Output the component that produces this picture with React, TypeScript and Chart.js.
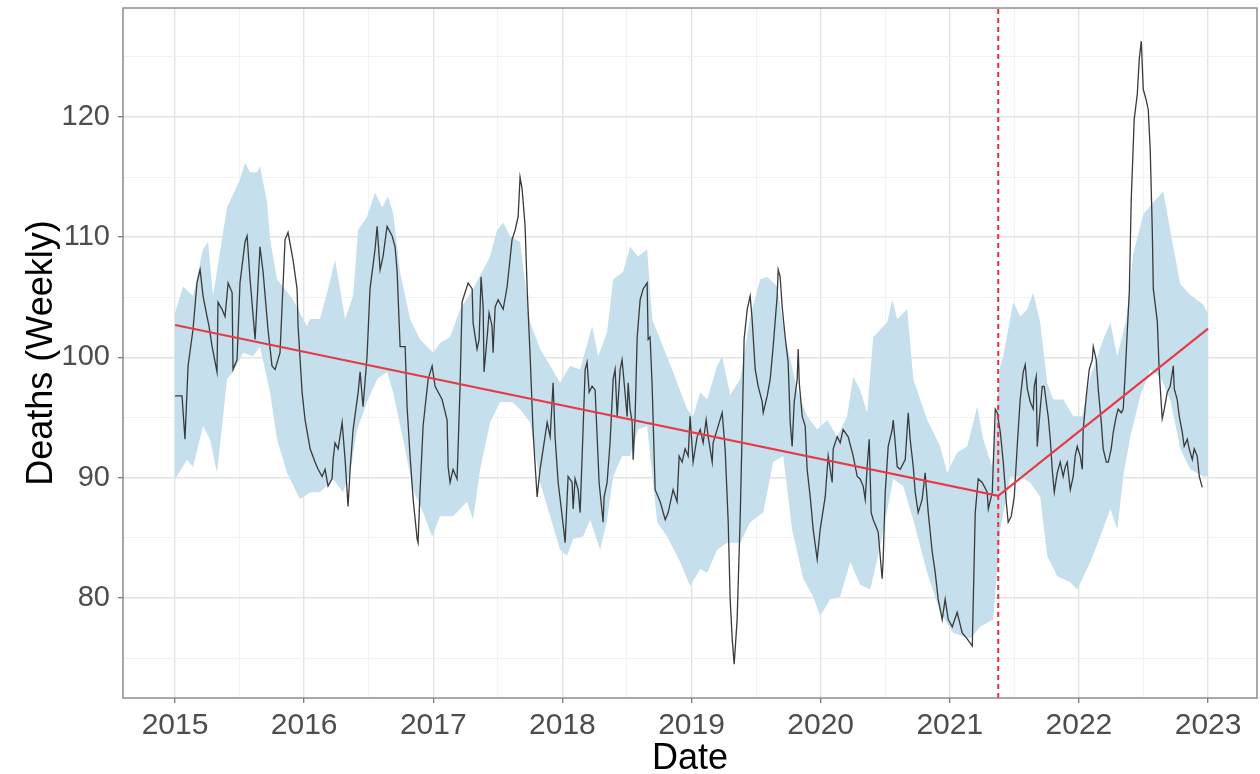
import React, { useEffect, useRef } from "react";
import { Chart, registerables } from "chart.js";

Chart.register(...registerables);

// Weekly deaths (black line), decimal year and value
const weekYears = [
  2015.000, 2015.054, 2015.077, 2015.101, 2015.139, 2015.170, 2015.194, 2015.217, 2015.248, 2015.263,
  2015.287, 2015.325, 2015.333, 2015.364, 2015.387, 2015.411, 2015.442, 2015.449, 2015.480, 2015.503,
  2015.542, 2015.558, 2015.581, 2015.620, 2015.643, 2015.658, 2015.682, 2015.720, 2015.751, 2015.775,
  2015.813, 2015.852, 2015.875, 2015.914, 2015.945, 2015.953, 2015.984,
  2016.007, 2016.030, 2016.046, 2016.084, 2016.108, 2016.139, 2016.162, 2016.185, 2016.216, 2016.224,
  2016.239, 2016.263, 2016.294, 2016.317, 2016.340, 2016.356, 2016.379, 2016.418, 2016.433, 2016.456,
  2016.487, 2016.510, 2016.549, 2016.565, 2016.588, 2016.611, 2016.642, 2016.681, 2016.704, 2016.720,
  2016.743, 2016.782, 2016.797, 2016.820, 2016.844, 2016.875, 2016.882, 2016.898, 2016.921, 2016.960,
  2016.991,
  2017.014, 2017.068, 2017.107, 2017.115, 2017.130, 2017.153, 2017.184, 2017.192, 2017.208, 2017.223,
  2017.246, 2017.270, 2017.301, 2017.308, 2017.339, 2017.355, 2017.370, 2017.386, 2017.393, 2017.417,
  2017.432, 2017.455, 2017.463, 2017.479, 2017.502, 2017.541, 2017.572, 2017.610, 2017.634, 2017.657,
  2017.672, 2017.688, 2017.711, 2017.727, 2017.750, 2017.773, 2017.804, 2017.827, 2017.851, 2017.882,
  2017.905, 2017.928, 2017.943, 2017.967, 2017.998,
  2018.021, 2018.044, 2018.075, 2018.083, 2018.098, 2018.122, 2018.137, 2018.160, 2018.176, 2018.191,
  2018.207, 2018.230, 2018.253, 2018.269, 2018.284, 2018.315, 2018.323, 2018.346, 2018.369, 2018.393,
  2018.408, 2018.424, 2018.447, 2018.462, 2018.478, 2018.501, 2018.509, 2018.524, 2018.540, 2018.548,
  2018.563, 2018.579, 2018.602, 2018.625, 2018.656, 2018.664, 2018.679, 2018.695, 2018.718, 2018.757,
  2018.796, 2018.819, 2018.857, 2018.888, 2018.904, 2018.927, 2018.950, 2018.974, 2018.989,
  2019.012, 2019.043, 2019.067, 2019.090, 2019.113, 2019.129, 2019.160, 2019.167, 2019.198, 2019.237,
  2019.260, 2019.284, 2019.299, 2019.315, 2019.330, 2019.353, 2019.377, 2019.392, 2019.407, 2019.431,
  2019.454, 2019.469, 2019.493, 2019.516, 2019.547, 2019.555, 2019.586, 2019.609, 2019.632, 2019.663,
  2019.671, 2019.686, 2019.702, 2019.725, 2019.748, 2019.764, 2019.779, 2019.795, 2019.818, 2019.826,
  2019.834, 2019.857, 2019.880, 2019.895, 2019.919, 2019.942, 2019.973, 2019.996,
  2020.035, 2020.058, 2020.089, 2020.097, 2020.128, 2020.151, 2020.174, 2020.213, 2020.252, 2020.283,
  2020.306, 2020.329, 2020.345, 2020.360, 2020.376, 2020.391, 2020.407, 2020.445, 2020.476, 2020.484,
  2020.500, 2020.523, 2020.554, 2020.562, 2020.593, 2020.616, 2020.655, 2020.678, 2020.693, 2020.717,
  2020.732, 2020.755, 2020.786, 2020.809, 2020.833, 2020.864, 2020.887, 2020.910, 2020.941, 2020.964,
  2020.988,
  2021.019, 2021.057, 2021.096, 2021.135, 2021.174, 2021.197, 2021.220, 2021.251, 2021.290, 2021.298,
  2021.329, 2021.352, 2021.367, 2021.391, 2021.414, 2021.437, 2021.452, 2021.476, 2021.499, 2021.522,
  2021.545, 2021.569, 2021.584, 2021.600, 2021.623, 2021.646, 2021.654, 2021.669, 2021.677, 2021.700,
  2021.716, 2021.731, 2021.754, 2021.762, 2021.778, 2021.793, 2021.809, 2021.832, 2021.855, 2021.878,
  2021.894, 2021.909, 2021.933, 2021.956, 2021.971, 2021.987,
  2022.010, 2022.026, 2022.033, 2022.057, 2022.080, 2022.103, 2022.111, 2022.134, 2022.150, 2022.173,
  2022.188, 2022.212, 2022.227, 2022.250, 2022.266, 2022.289, 2022.304, 2022.328, 2022.343, 2022.359,
  2022.374, 2022.390, 2022.405, 2022.428, 2022.452, 2022.467, 2022.483, 2022.498, 2022.521, 2022.537,
  2022.552, 2022.568, 2022.576, 2022.607, 2022.622, 2022.645, 2022.661, 2022.684, 2022.707, 2022.731,
  2022.738, 2022.761, 2022.777, 2022.800, 2022.815, 2022.839, 2022.854, 2022.878, 2022.893, 2022.916,
  2022.932, 2022.955,
];

const weeklyDeaths = [
  96.8, 96.8, 93.2, 99.3, 102.3, 106.2, 107.3, 105.1, 103.4, 102.6,
  100.9, 98.8, 104.6, 104.0, 103.4, 106.2, 105.4, 99.0, 99.8, 106.2,
  109.6, 110.1, 106.5, 101.5, 106.2, 109.2, 107.1, 102.3, 99.3, 99.0,
  100.4, 109.8, 110.4, 108.1, 105.7, 102.6, 97.1,
  94.8, 93.4, 92.4, 91.3, 90.7, 90.1, 90.7, 89.3, 89.9, 91.5,
  92.9, 92.4, 94.6, 91.5, 87.6, 90.7, 94.0, 97.1, 98.8, 95.9,
  100.1, 105.7, 109.0, 110.9, 107.3, 108.4, 110.9, 110.1, 109.2, 107.1,
  100.9, 100.9, 95.9, 91.8, 88.2, 84.9, 84.6, 89.0, 94.3, 98.2,
  99.3,
  97.6, 96.5, 94.8, 90.9, 89.6, 90.7, 89.9, 92.4, 97.9, 104.6,
  105.4, 106.2, 105.7, 102.9, 100.7, 101.5, 106.7, 104.2, 98.8, 101.7,
  103.7, 102.6, 100.4, 104.2, 104.8, 104.0, 105.9, 109.8, 110.6, 111.7,
  115.0, 114.0, 110.9, 105.7, 100.1, 93.8, 88.4, 90.7, 92.4, 94.6,
  93.4, 97.9, 93.4, 89.6, 86.8,
  84.6, 90.1, 89.6, 87.4, 89.9, 89.0, 87.1, 94.0, 99.0, 99.6,
  97.1, 97.6, 97.3, 93.4, 89.6, 86.3, 88.4, 89.6, 92.9, 98.2,
  99.0, 95.1, 99.0, 99.8, 97.9, 95.1, 97.9, 95.7, 94.6, 91.5,
  95.1, 101.7, 104.8, 105.7, 106.2, 101.5, 101.7, 97.6, 89.0, 88.0,
  86.5, 87.1, 89.0, 88.0, 91.8, 91.3, 92.4, 91.8, 95.1,
  91.3, 93.4, 94.0, 92.9, 94.8, 93.4, 91.3, 92.9, 94.0, 95.4,
  92.4, 86.3, 79.9, 76.6, 74.5, 78.2, 86.8, 94.0, 101.5, 104.0,
  105.1, 103.2, 99.0, 97.6, 96.3, 95.4, 96.8, 98.2, 100.9, 105.1,
  107.3, 106.7, 104.2, 101.7, 99.6, 94.6, 92.6, 96.3, 98.2, 100.7,
  97.9, 95.1, 94.3, 90.7, 88.4, 85.7, 83.2, 85.7,
  88.4, 91.8, 89.6, 92.4, 93.4, 92.9, 94.0, 93.4, 91.8, 90.1,
  89.9, 89.3, 88.2, 90.9, 93.2, 87.1, 86.5, 85.5, 81.6, 83.2,
  88.8, 92.6, 94.0, 94.8, 90.9, 90.7, 91.5, 95.4, 93.2, 90.9,
  88.8, 87.1, 88.2, 90.4, 87.1, 83.8, 82.1, 79.9, 78.2, 79.9,
  78.2,
  77.6, 78.8, 77.1, 76.6, 76.0, 87.1, 89.9, 89.6, 88.8, 87.4,
  88.8, 95.7, 95.4, 93.8, 91.3, 88.0, 86.3, 86.8, 88.4, 92.6,
  96.5, 98.8, 99.4, 97.4, 96.3, 95.7, 97.6, 98.4, 92.6, 95.7,
  97.6, 97.6, 95.7, 95.1, 93.2, 90.7, 88.8, 90.4, 91.3, 90.1,
  90.9, 91.3, 89.0, 90.1, 91.8, 92.6,
  91.8, 90.7, 94.0, 96.8, 99.0, 99.8, 100.9, 99.8, 97.3, 94.6,
  92.4, 91.3, 91.3, 92.4, 93.8, 95.1, 95.7, 95.4, 95.7, 98.8,
  102.1, 105.4, 113.1, 119.8, 121.9, 124.8, 126.3, 122.3, 121.4, 120.6,
  117.3, 110.6, 105.7, 103.0, 98.8, 94.9, 95.7, 97.1, 97.6, 99.3,
  97.4, 96.5, 95.1, 93.8, 92.6, 93.2, 92.4, 91.5, 92.4, 91.8,
  90.1, 89.2,
];

// Expected band (light blue ribbon)
const bandUpperYears = [
  2015.000, 2015.062, 2015.139, 2015.217, 2015.256, 2015.294, 2015.403, 2015.503, 2015.542, 2015.581,
  2015.635, 2015.658, 2015.713, 2015.736, 2015.790, 2015.914, 2016.022, 2016.046, 2016.123, 2016.185,
  2016.239, 2016.278, 2016.317, 2016.379, 2016.418, 2016.487, 2016.549, 2016.603, 2016.650, 2016.689,
  2016.743, 2016.820, 2016.898, 2016.998, 2017.053, 2017.130, 2017.208, 2017.308, 2017.386, 2017.440,
  2017.494, 2017.541, 2017.595, 2017.672, 2017.750, 2017.827, 2017.905, 2017.982, 2018.060, 2018.137,
  2018.230, 2018.277, 2018.346, 2018.393, 2018.470, 2018.524, 2018.586, 2018.656, 2018.695, 2018.757,
  2018.857, 2018.966, 2019.012, 2019.067, 2019.121, 2019.198, 2019.237, 2019.299, 2019.377, 2019.454,
  2019.532, 2019.586, 2019.663, 2019.725, 2019.818, 2019.895, 2019.973, 2020.050, 2020.128, 2020.205,
  2020.252, 2020.306, 2020.360, 2020.407, 2020.515, 2020.554, 2020.593, 2020.670, 2020.717, 2020.825,
  2020.926, 2020.980, 2021.057, 2021.135, 2021.212, 2021.259, 2021.329, 2021.391, 2021.414, 2021.491,
  2021.545, 2021.600, 2021.646, 2021.700, 2021.754, 2021.801, 2021.878, 2021.956, 2022.026, 2022.088,
  2022.188, 2022.243, 2022.297, 2022.367, 2022.421, 2022.498, 2022.576, 2022.653, 2022.715, 2022.785,
  2022.862, 2022.963, 2023.000,
];
const bandUpperValues = [
  103.7, 105.9, 105.1, 109.0, 109.6, 105.1, 112.5, 114.8, 116.2, 115.4,
  115.4, 115.9, 112.9, 109.8, 106.5, 104.8, 102.6, 103.2, 103.2, 105.7,
  108.1, 105.7, 103.2, 105.1, 110.6, 111.7, 113.7, 112.5, 113.4, 112.0,
  107.1, 103.2, 101.5, 100.4, 101.2, 101.7, 104.0, 105.7, 107.3, 108.4,
  110.6, 111.2, 110.1, 109.6, 102.9, 100.7, 99.3, 97.9, 99.3, 99.0,
  102.6, 100.1, 102.1, 106.5, 107.1, 109.2, 108.4, 109.0, 103.2, 101.5,
  98.8, 95.7, 95.1, 97.1, 96.5, 99.3, 100.1, 96.9, 98.2, 103.4,
  106.5, 106.7, 105.9, 101.7, 97.3, 95.1, 94.0, 94.8, 93.4, 95.1,
  98.4, 97.3, 95.4, 101.7, 102.9, 104.8, 103.2, 104.0, 98.2, 94.8,
  92.6, 90.4, 92.1, 92.6, 95.9, 93.2, 90.9, 99.3, 100.1, 104.6,
  103.4, 104.0, 105.4, 102.9, 97.9, 96.5, 96.5, 95.1, 95.1, 98.4,
  101.5, 102.9, 100.1, 103.2, 108.6, 111.9, 112.9, 113.8, 110.1, 106.1,
  105.2, 104.4, 103.6,
];
const bandLowerYears = [
  2015.000, 2015.093, 2015.139, 2015.217, 2015.271, 2015.325, 2015.403, 2015.449, 2015.527, 2015.604,
  2015.658, 2015.736, 2015.790, 2015.868, 2015.968, 2016.046, 2016.123, 2016.224, 2016.301, 2016.356,
  2016.410, 2016.487, 2016.565, 2016.642, 2016.689, 2016.766, 2016.844, 2016.921, 2016.991, 2017.053,
  2017.153, 2017.262, 2017.308, 2017.363, 2017.440, 2017.517, 2017.610, 2017.672, 2017.750, 2017.827,
  2017.905, 2017.982, 2018.036, 2018.083, 2018.160, 2018.215, 2018.292, 2018.346, 2018.393, 2018.462,
  2018.524, 2018.586, 2018.656, 2018.734, 2018.811, 2018.912, 2018.989, 2019.067, 2019.121, 2019.198,
  2019.276, 2019.377, 2019.454, 2019.555, 2019.632, 2019.710, 2019.779, 2019.865, 2019.942, 2019.996,
  2020.074, 2020.151, 2020.229, 2020.306, 2020.384, 2020.461, 2020.562, 2020.639, 2020.717, 2020.825,
  2020.926, 2021.026, 2021.158, 2021.236, 2021.336, 2021.391, 2021.468, 2021.545, 2021.623, 2021.700,
  2021.754, 2021.832, 2021.933, 2021.987, 2022.088, 2022.165, 2022.243, 2022.297, 2022.343, 2022.398,
  2022.475, 2022.552, 2022.630, 2022.707, 2022.785, 2022.862, 2022.963, 2023.000,
];
const bandLowerValues = [
  89.9, 91.5, 90.9, 94.3, 93.2, 90.4, 98.2, 98.8, 100.4, 100.1,
  100.9, 97.1, 93.2, 90.4, 88.2, 88.8, 88.8, 89.9, 88.8, 90.4,
  94.0, 96.3, 98.2, 98.8, 97.1, 93.2, 89.0, 87.1, 85.1, 86.8,
  86.8, 88.0, 86.5, 90.7, 94.6, 96.3, 96.3, 95.7, 94.6, 89.6,
  86.8, 84.0, 83.5, 84.9, 85.1, 86.5, 84.0, 86.5, 90.1, 91.8,
  91.8, 94.0, 94.3, 86.3, 85.1, 83.0, 81.0, 82.4, 82.1, 84.0,
  84.6, 84.6, 86.3, 87.1, 91.3, 91.8, 85.7, 81.6, 80.1, 78.5,
  79.9, 80.1, 83.0, 81.1, 80.7, 84.3, 89.9, 89.3, 86.5, 82.1,
  78.8, 77.1, 76.6, 77.6, 78.2, 85.7, 90.1, 90.1, 89.6, 88.4,
  83.5, 81.8, 81.3, 80.7, 83.0, 85.1, 87.4, 85.7, 90.1, 93.4,
  96.8, 99.0, 98.4, 96.5, 92.4, 90.7, 90.1, 90.1,
];

// Segmented trend (red) and break point (dashed red)
const trendYears = [2015, 2021.375, 2023];
const trendValues = [102.7, 88.5, 102.4];
const breakYear = 2021.375;

const X_MIN = 2014.597;
const X_MAX = 2023.379;
const Y_MIN = 71.68;
const Y_MAX = 129.06;

const FONT = '"Liberation Sans", Arial, Helvetica, sans-serif';

const toPoints = (xs: number[], ys: number[]) => xs.map((x, i) => ({ x, y: ys[i] }));
const isMultiple = (v: number, step: number) => Math.abs(v / step - Math.round(v / step)) < 1e-6;

export default function App() {
  const canvasRef = useRef<HTMLCanvasElement>(null);

  useEffect(() => {
    document.body.style.margin = "0";
    const canvas = canvasRef.current;
    if (!canvas) return;

    const panelBorder = {
      id: "panelBorder",
      afterDatasetsDraw(chart: any) {
        const { ctx, chartArea } = chart;
        const { left, top, right, bottom } = chartArea;
        ctx.save();
        ctx.strokeStyle = "#858585";
        ctx.lineWidth = 1.4;
        ctx.strokeRect(left, top, right - left, bottom - top);
        ctx.restore();
      },
    };

    const chart = new Chart(canvas, {
      type: "line",
      data: {
        datasets: [
          {
            label: "break",
            data: [
              { x: breakYear, y: Y_MIN },
              { x: breakYear, y: Y_MAX },
            ],
            borderColor: "#EC2F3B",
            borderWidth: 2,
            borderDash: [5, 4],
            pointRadius: 0,
            fill: false,
          },
          {
            label: "trend",
            data: toPoints(trendYears, trendValues),
            borderColor: "#E63A48",
            borderWidth: 2.2,
            pointRadius: 0,
            fill: false,
          },
          {
            label: "deaths",
            data: toPoints(weekYears, weeklyDeaths),
            borderColor: "#3A3A3A",
            borderWidth: 1.3,
            pointRadius: 0,
            fill: false,
          },
          {
            label: "upper",
            data: toPoints(bandUpperYears, bandUpperValues),
            borderColor: "rgba(0,0,0,0)",
            borderWidth: 0,
            backgroundColor: "#C5DFEC",
            pointRadius: 0,
            fill: "+1",
          },
          {
            label: "lower",
            data: toPoints(bandLowerYears, bandLowerValues),
            borderColor: "rgba(0,0,0,0)",
            borderWidth: 0,
            pointRadius: 0,
            fill: false,
          },
        ],
      },
      options: {
        responsive: false,
        animation: false,
        layout: { padding: { top: 8, right: 3, left: 0, bottom: 0 } },
        elements: { line: { tension: 0 } },
        plugins: {
          legend: { display: false },
          tooltip: { enabled: false },
        },
        scales: {
          x: {
            type: "linear",
            min: X_MIN,
            max: X_MAX,
            afterFit: (s: any) => {
              s.height = 76;
              s.paddingLeft = 0;
              s.paddingRight = 0;
            },
            ticks: {
              stepSize: 0.5,
              includeBounds: false,
              autoSkip: false,
              maxRotation: 0,
              padding: 5,
              color: "#4D4D4D",
              font: { family: FONT, size: 30 },
              callback: (v: any) => (isMultiple(Number(v), 1) ? String(Math.round(Number(v))) : ""),
            },
            grid: {
              color: (c: any) => (c.tick && isMultiple(c.tick.value, 1) ? "#E3E3E3" : "#F1F1F1"),
              lineWidth: (c: any) => (c.tick && isMultiple(c.tick.value, 1) ? 1.4 : 0.9),
              tickLength: 5,
              tickWidth: 1.3,
              tickColor: (c: any) => (c.tick && isMultiple(c.tick.value, 1) ? "#7A7A7A" : "rgba(0,0,0,0)"),
            },
            border: { display: false },
            title: {
              display: true,
              text: "Date",
              color: "#000000",
              font: { family: FONT, size: 36, lineHeight: 0.8 },
              padding: { top: 0, bottom: 1 },
            },
          },
          y: {
            type: "linear",
            min: Y_MIN,
            max: Y_MAX,
            afterFit: (s: any) => {
              s.width = 123;
              s.paddingTop = 0;
              s.paddingBottom = 0;
            },
            ticks: {
              stepSize: 5,
              includeBounds: false,
              autoSkip: false,
              padding: 8,
              color: "#4D4D4D",
              font: { family: FONT, size: 29 },
              callback: (v: any) => (isMultiple(Number(v), 10) ? String(Math.round(Number(v))) : ""),
            },
            grid: {
              color: (c: any) => (c.tick && isMultiple(c.tick.value, 10) ? "#E3E3E3" : "#F1F1F1"),
              lineWidth: (c: any) => (c.tick && isMultiple(c.tick.value, 10) ? 1.4 : 0.9),
              tickLength: 5,
              tickWidth: 1.3,
              tickColor: (c: any) => (c.tick && isMultiple(c.tick.value, 10) ? "#7A7A7A" : "rgba(0,0,0,0)"),
            },
            border: { display: false },
            title: {
              display: true,
              text: "Deaths (Weekly)",
              color: "#000000",
              font: { family: FONT, size: 36, lineHeight: 0.8 },
              padding: { top: 28, bottom: 0 },
            },
          },
        },
      },
      plugins: [panelBorder],
    } as any);

    return () => chart.destroy();
  }, []);

  return (
    <div style={{ position: "absolute", left: 0, top: 0, width: 1260, height: 774, background: "#ffffff" }}>
      <canvas ref={canvasRef} width={1260} height={774} style={{ display: "block" }} />
    </div>
  );
}
